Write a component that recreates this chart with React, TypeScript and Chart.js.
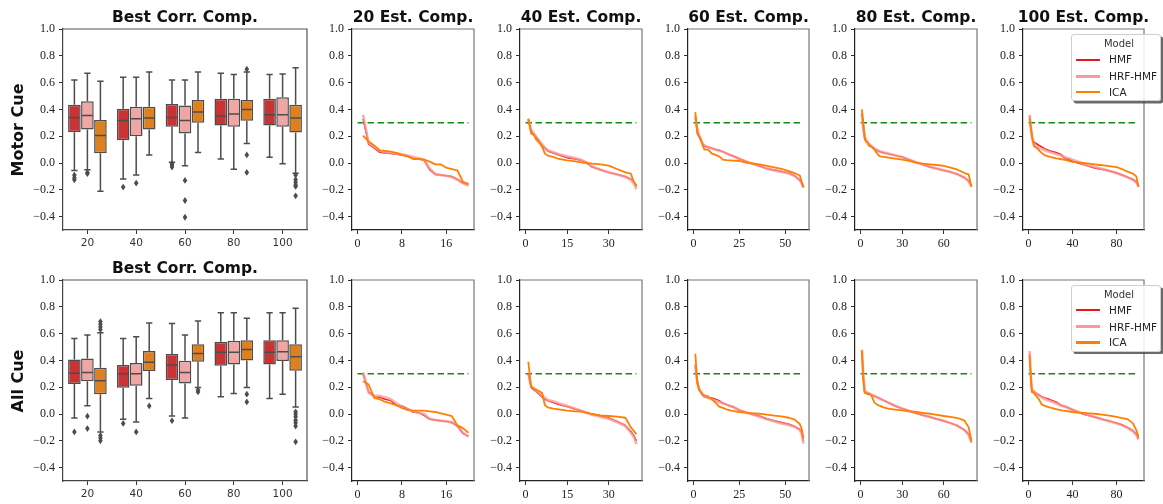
import React, { useEffect, useRef } from 'react';
import { Chart, registerables } from 'chart.js';

Chart.register(...registerables);

// ---------------- labels / categories ----------------
const MODELS = ['HMF', 'HRF-HMF', 'ICA'];
const BOX_CATEGORIES = ['20', '40', '60', '80', '100'];
const Y_TICKS = [-0.4, -0.2, 0.0, 0.2, 0.4, 0.6, 0.8, 1.0];
const ROW_LABELS = ['Motor Cue', 'All Cue'];
const COMP_COUNTS = [20, 40, 60, 80, 100];
const X_TICKS = [[0, 8, 16], [0, 15, 30], [0, 25, 50], [0, 30, 60], [0, 40, 80]];
const THRESHOLD = 0.3;

// ---------------- box plot stats: [whiskerLow, q1, median, q3, whiskerHigh] per category ----------------
const MOTOR_BOX_HMF = [[-0.056, 0.23, 0.34, 0.435, 0.62], [-0.12, 0.17, 0.317, 0.405, 0.64], [0.006, 0.27, 0.34, 0.44, 0.62], [0.03, 0.28, 0.35, 0.48, 0.67], [0.043, 0.28, 0.36, 0.48, 0.66]];
const MOTOR_BOX_HRF = [[-0.05, 0.25, 0.355, 0.46, 0.67], [-0.09, 0.2, 0.33, 0.42, 0.64], [-0.02, 0.22, 0.317, 0.43, 0.62], [-0.046, 0.27, 0.365, 0.48, 0.66], [-0.006, 0.27, 0.36, 0.49, 0.665]];
const MOTOR_BOX_ICA = [[-0.21, 0.073, 0.205, 0.32, 0.61], [0.06, 0.25, 0.335, 0.42, 0.68], [0.078, 0.3, 0.38, 0.47, 0.68], [0.145, 0.315, 0.4, 0.47, 0.68], [-0.077, 0.228, 0.335, 0.435, 0.71]];
const MOTOR_OUT_HMF = [[-0.09, -0.11, -0.125], [-0.18], [-0.005, -0.015, -0.03], [], []];
const MOTOR_OUT_HRF = [[-0.07, -0.08], [-0.15], [-0.13, -0.28, -0.405], [], []];
const MOTOR_OUT_ICA = [[], [], [], [0.7, 0.06, -0.07], [-0.09, -0.125, -0.145, -0.165, -0.175, -0.245]];

const ALL_BOX_HMF = [[-0.029, 0.223, 0.305, 0.407, 0.564], [-0.04, 0.195, 0.3, 0.365, 0.564], [-0.014, 0.253, 0.365, 0.447, 0.676], [0.128, 0.36, 0.46, 0.54, 0.756], [0.116, 0.37, 0.46, 0.55, 0.756]];
const ALL_BOX_HRF = [[0.061, 0.245, 0.31, 0.415, 0.589], [-0.06, 0.21, 0.3, 0.38, 0.576], [-0.029, 0.228, 0.31, 0.397, 0.589], [0.153, 0.37, 0.46, 0.546, 0.756], [0.148, 0.395, 0.465, 0.55, 0.756]];
const ALL_BOX_ICA = [[-0.134, 0.148, 0.248, 0.345, 0.606], [0.116, 0.32, 0.387, 0.47, 0.68], [0.198, 0.39, 0.452, 0.52, 0.694], [0.198, 0.4, 0.482, 0.55, 0.714], [0.053, 0.322, 0.427, 0.52, 0.79]];
const ALL_OUT_HMF = [[-0.134], [-0.07], [-0.05], [], []];
const ALL_OUT_HRF = [[-0.016, -0.109], [-0.134], [], [], []];
const ALL_OUT_ICA = [[0.63, 0.65, 0.67, 0.69, -0.16, -0.18, -0.2], [0.06], [0.18, 0.165], [0.148, 0.09], [0.016, -0.001, -0.02, -0.046, -0.066, -0.09, -0.208]];

// ---------------- sorted correlation curves (rank -> value) ----------------
const RANKS_20 = [1, 2, 3, 4, 5, 6, 7, 8, 9, 10, 11, 12, 13, 14, 15, 16, 17, 18, 19, 20];
const RANKS_40 = [1, 2, 3, 4, 5, 6, 7, 8, 10, 12, 15, 18, 20, 22, 24, 27, 30, 33, 36, 38, 39, 40];
const RANKS_60 = [1, 2, 3, 4, 5, 6, 8, 10, 12, 14, 16, 18, 20, 22, 25, 28, 30, 33, 36, 40, 44, 48, 52, 55, 58, 59, 60];
const RANKS_80 = [1, 2, 3, 4, 5, 6, 8, 10, 12, 14, 17, 20, 25, 30, 35, 40, 45, 50, 55, 60, 65, 70, 75, 78, 80];
const RANKS_100 = [1, 2, 3, 4, 5, 6, 8, 10, 12, 15, 18, 20, 25, 30, 32, 35, 40, 45, 50, 55, 60, 65, 70, 75, 80, 85, 90, 95, 98, 100];

const MOTOR_HMF_20 = [0.33, 0.14, 0.11, 0.08, 0.075, 0.07, 0.065, 0.06, 0.05, 0.035, 0.03, 0.02, -0.05, -0.085, -0.09, -0.095, -0.1, -0.12, -0.15, -0.16];
const MOTOR_HRF_20 = [0.36, 0.15, 0.12, 0.09, 0.08, 0.075, 0.07, 0.065, 0.055, 0.045, 0.035, 0.025, -0.04, -0.08, -0.09, -0.095, -0.105, -0.125, -0.15, -0.17];
const MOTOR_ICA_20 = [0.205, 0.16, 0.13, 0.095, 0.09, 0.085, 0.075, 0.06, 0.05, 0.03, 0.03, 0.025, 0.01, -0.01, -0.01, -0.035, -0.045, -0.055, -0.14, -0.155];
const MOTOR_HMF_40 = [0.32, 0.24, 0.21, 0.19, 0.16, 0.13, 0.11, 0.09, 0.075, 0.06, 0.04, 0.03, 0.02, 0.0, -0.03, -0.05, -0.07, -0.085, -0.1, -0.12, -0.14, -0.175];
const MOTOR_HRF_40 = [0.33, 0.25, 0.22, 0.19, 0.165, 0.14, 0.115, 0.095, 0.08, 0.065, 0.05, 0.035, 0.025, 0.005, -0.025, -0.05, -0.07, -0.085, -0.105, -0.125, -0.15, -0.195];
const MOTOR_ICA_40 = [0.33, 0.22, 0.21, 0.17, 0.15, 0.12, 0.07, 0.055, 0.045, 0.03, 0.02, 0.012, 0.005, 0.0, -0.005, -0.01, -0.02, -0.045, -0.07, -0.08, -0.14, -0.165];
const MOTOR_HMF_60 = [0.34, 0.25, 0.2, 0.17, 0.14, 0.125, 0.118, 0.11, 0.1, 0.095, 0.085, 0.072, 0.06, 0.05, 0.032, 0.015, 0.005, -0.01, -0.022, -0.042, -0.053, -0.063, -0.075, -0.095, -0.13, -0.15, -0.18];
const MOTOR_HRF_60 = [0.35, 0.26, 0.21, 0.17, 0.145, 0.13, 0.12, 0.11, 0.1, 0.092, 0.083, 0.072, 0.06, 0.048, 0.03, 0.015, 0.005, -0.01, -0.023, -0.042, -0.055, -0.066, -0.078, -0.095, -0.125, -0.15, -0.185];
const MOTOR_ICA_60 = [0.38, 0.22, 0.2, 0.18, 0.13, 0.1, 0.1, 0.07, 0.06, 0.05, 0.025, 0.022, 0.02, 0.018, 0.015, 0.005, 0.0, -0.005, -0.01, -0.022, -0.032, -0.043, -0.06, -0.075, -0.093, -0.14, -0.18];
const MOTOR_HMF_80 = [0.37, 0.25, 0.18, 0.16, 0.15, 0.14, 0.12, 0.105, 0.093, 0.083, 0.075, 0.068, 0.055, 0.045, 0.025, 0.005, -0.012, -0.03, -0.042, -0.055, -0.067, -0.083, -0.11, -0.135, -0.17];
const MOTOR_HRF_80 = [0.36, 0.26, 0.19, 0.17, 0.16, 0.145, 0.125, 0.11, 0.098, 0.088, 0.078, 0.07, 0.058, 0.045, 0.025, 0.005, -0.012, -0.028, -0.042, -0.055, -0.068, -0.085, -0.11, -0.135, -0.175];
const MOTOR_ICA_80 = [0.4, 0.3, 0.2, 0.16, 0.15, 0.13, 0.12, 0.1, 0.07, 0.05, 0.045, 0.04, 0.032, 0.025, 0.015, 0.002, -0.005, -0.01, -0.015, -0.022, -0.035, -0.05, -0.075, -0.085, -0.18];
const MOTOR_HMF_100 = [0.35, 0.27, 0.2, 0.17, 0.155, 0.15, 0.14, 0.13, 0.12, 0.105, 0.095, 0.09, 0.078, 0.062, 0.04, 0.032, 0.015, 0.0, -0.012, -0.025, -0.037, -0.045, -0.053, -0.063, -0.075, -0.09, -0.105, -0.122, -0.14, -0.167];
const MOTOR_HRF_100 = [0.36, 0.28, 0.2, 0.16, 0.145, 0.135, 0.12, 0.112, 0.105, 0.095, 0.085, 0.08, 0.068, 0.055, 0.048, 0.04, 0.025, 0.01, -0.005, -0.018, -0.03, -0.04, -0.05, -0.062, -0.075, -0.09, -0.107, -0.127, -0.145, -0.175];
const MOTOR_ICA_100 = [0.33, 0.27, 0.22, 0.16, 0.125, 0.12, 0.11, 0.09, 0.075, 0.057, 0.05, 0.045, 0.035, 0.028, 0.025, 0.02, 0.008, 0.004, 0.0, -0.005, -0.01, -0.015, -0.02, -0.025, -0.03, -0.045, -0.065, -0.08, -0.1, -0.18];

const ALL_HMF_20 = [0.3, 0.165, 0.13, 0.125, 0.11, 0.1, 0.065, 0.06, 0.04, 0.015, 0.01, -0.01, -0.04, -0.045, -0.05, -0.055, -0.065, -0.09, -0.145, -0.165];
const ALL_HRF_20 = [0.31, 0.16, 0.135, 0.135, 0.125, 0.11, 0.08, 0.055, 0.035, 0.02, 0.01, 0.0, -0.035, -0.045, -0.05, -0.055, -0.06, -0.085, -0.14, -0.17];
const ALL_ICA_20 = [0.245, 0.22, 0.12, 0.11, 0.09, 0.08, 0.065, 0.045, 0.03, 0.025, 0.025, 0.025, 0.02, 0.015, 0.005, -0.005, -0.015, -0.085, -0.105, -0.14];
const ALL_HMF_40 = [0.3, 0.2, 0.18, 0.165, 0.145, 0.125, 0.11, 0.1, 0.085, 0.07, 0.055, 0.035, 0.025, 0.01, 0.0, -0.015, -0.03, -0.055, -0.085, -0.13, -0.16, -0.2];
const ALL_HRF_40 = [0.3, 0.21, 0.19, 0.17, 0.155, 0.135, 0.12, 0.105, 0.095, 0.08, 0.06, 0.04, 0.025, 0.01, -0.005, -0.02, -0.035, -0.06, -0.09, -0.14, -0.17, -0.225];
const ALL_ICA_40 = [0.39, 0.2, 0.19, 0.18, 0.17, 0.157, 0.065, 0.05, 0.04, 0.035, 0.025, 0.02, 0.018, 0.01, 0.0, -0.01, -0.015, -0.02, -0.028, -0.1, -0.125, -0.15];
const ALL_HMF_60 = [0.36, 0.23, 0.18, 0.16, 0.14, 0.127, 0.123, 0.12, 0.11, 0.1, 0.082, 0.07, 0.06, 0.052, 0.027, 0.015, 0.005, -0.005, -0.015, -0.035, -0.05, -0.063, -0.077, -0.092, -0.115, -0.135, -0.2];
const ALL_HRF_60 = [0.37, 0.24, 0.19, 0.165, 0.145, 0.13, 0.12, 0.11, 0.1, 0.09, 0.08, 0.07, 0.06, 0.05, 0.03, 0.015, 0.005, -0.008, -0.02, -0.04, -0.055, -0.07, -0.082, -0.095, -0.12, -0.15, -0.22];
const ALL_ICA_60 = [0.45, 0.25, 0.185, 0.165, 0.148, 0.14, 0.13, 0.11, 0.085, 0.055, 0.045, 0.035, 0.027, 0.022, 0.015, 0.01, 0.008, 0.005, 0.002, -0.005, -0.012, -0.018, -0.028, -0.04, -0.075, -0.11, -0.18];
const ALL_HMF_80 = [0.46, 0.28, 0.16, 0.155, 0.15, 0.148, 0.14, 0.133, 0.125, 0.115, 0.1, 0.085, 0.06, 0.04, 0.022, 0.005, -0.01, -0.022, -0.037, -0.052, -0.068, -0.088, -0.12, -0.15, -0.21];
const ALL_HRF_80 = [0.48, 0.29, 0.17, 0.165, 0.16, 0.155, 0.145, 0.135, 0.125, 0.115, 0.1, 0.085, 0.062, 0.042, 0.025, 0.008, -0.008, -0.022, -0.037, -0.05, -0.068, -0.088, -0.12, -0.155, -0.215];
const ALL_ICA_80 = [0.475, 0.25, 0.157, 0.155, 0.153, 0.152, 0.135, 0.085, 0.07, 0.06, 0.048, 0.04, 0.032, 0.027, 0.02, 0.015, 0.008, 0.002, -0.006, -0.015, -0.022, -0.03, -0.05, -0.1, -0.2];
const ALL_HMF_100 = [0.45, 0.28, 0.18, 0.17, 0.165, 0.16, 0.15, 0.14, 0.13, 0.12, 0.112, 0.105, 0.09, 0.065, 0.06, 0.05, 0.032, 0.015, -0.002, -0.012, -0.022, -0.033, -0.045, -0.055, -0.067, -0.08, -0.1, -0.125, -0.15, -0.185];
const ALL_HRF_100 = [0.47, 0.29, 0.19, 0.175, 0.17, 0.16, 0.145, 0.135, 0.125, 0.112, 0.1, 0.095, 0.08, 0.062, 0.057, 0.048, 0.032, 0.017, 0.003, -0.01, -0.022, -0.035, -0.047, -0.057, -0.07, -0.085, -0.103, -0.13, -0.155, -0.19];
const ALL_ICA_100 = [0.43, 0.3, 0.165, 0.16, 0.155, 0.145, 0.125, 0.102, 0.072, 0.06, 0.052, 0.047, 0.037, 0.027, 0.025, 0.021, 0.015, 0.011, 0.008, 0.005, 0.002, -0.003, -0.008, -0.014, -0.022, -0.03, -0.038, -0.07, -0.12, -0.17];

const ROW_BOXES = [
  { stats: [MOTOR_BOX_HMF, MOTOR_BOX_HRF, MOTOR_BOX_ICA], outliers: [MOTOR_OUT_HMF, MOTOR_OUT_HRF, MOTOR_OUT_ICA] },
  { stats: [ALL_BOX_HMF, ALL_BOX_HRF, ALL_BOX_ICA], outliers: [ALL_OUT_HMF, ALL_OUT_HRF, ALL_OUT_ICA] },
];
const ROW_LINES = [
  [
    [RANKS_20, MOTOR_HMF_20, MOTOR_HRF_20, MOTOR_ICA_20],
    [RANKS_40, MOTOR_HMF_40, MOTOR_HRF_40, MOTOR_ICA_40],
    [RANKS_60, MOTOR_HMF_60, MOTOR_HRF_60, MOTOR_ICA_60],
    [RANKS_80, MOTOR_HMF_80, MOTOR_HRF_80, MOTOR_ICA_80],
    [RANKS_100, MOTOR_HMF_100, MOTOR_HRF_100, MOTOR_ICA_100],
  ],
  [
    [RANKS_20, ALL_HMF_20, ALL_HRF_20, ALL_ICA_20],
    [RANKS_40, ALL_HMF_40, ALL_HRF_40, ALL_ICA_40],
    [RANKS_60, ALL_HMF_60, ALL_HRF_60, ALL_ICA_60],
    [RANKS_80, ALL_HMF_80, ALL_HRF_80, ALL_ICA_80],
    [RANKS_100, ALL_HMF_100, ALL_HRF_100, ALL_ICA_100],
  ],
];

// ---------------- styles / layout ----------------
const LINE_COLORS = ['#e31a1c', '#fb9a99', '#ff7f00'];
const LINE_DRAW_COLORS = ['#e31a1c', 'rgba(251,154,153,0.8)', '#ff7f00'];
const LINE_WIDTHS = [1.5, 2.6, 1.8];
const BOX_COLORS = ['#ca3334', '#efa6a5', '#df8020'];
const BOX_EDGE = '#4d4d4d';
const GREEN = '#138a13';
const SERIF = "'Liberation Serif', 'DejaVu Serif', serif";
const SANS = "'DejaVu Sans', 'Liberation Sans', sans-serif";

const COL_LEFT = [63, 352, 520, 688, 855, 1023];
const COL_WIDTH = [244, 122, 122, 121, 122, 121];
const ROW_TOP = [29, 280];
const PLOT_H = 201;
const AXIS_W = 45;
const AXIS_H = 24;
const PAD_T = 16;
const PAD_R = 8;
const TICK_FONT = 12;

const fmtY = (v: number) => (Math.abs(v) < 1e-9 ? 0 : v).toFixed(1).replace('-', '\u2212');

function yScale(borderColor: string) {
  return {
    type: 'linear',
    min: -0.5,
    max: 1.0,
    afterBuildTicks: (s: any) => { s.ticks = Y_TICKS.map((v) => ({ value: v })); },
    afterFit: (s: any) => { s.width = AXIS_W; },
    ticks: { callback: (v: any) => fmtY(Number(v)), font: { family: SERIF, size: TICK_FONT }, color: '#222', padding: 4, autoSkip: false },
    grid: { drawOnChartArea: false, drawTicks: true, tickLength: 4, tickColor: '#333', tickWidth: 1 },
    border: { display: true, color: borderColor, width: 1.2 },
  };
}

function framePlugin(color: string) {
  return {
    id: 'frame',
    afterDatasetsDraw(chart: any) {
      const { ctx, chartArea: a } = chart;
      ctx.save();
      ctx.strokeStyle = color;
      ctx.lineWidth = 1.2;
      ctx.beginPath();
      ctx.moveTo(a.left, a.top);
      ctx.lineTo(a.right, a.top);
      ctx.lineTo(a.right, a.bottom);
      ctx.stroke();
      ctx.restore();
    },
  };
}

function boxPartsPlugin(stats: number[][][], outliers: number[][][]) {
  return {
    id: 'boxparts',
    afterDatasetsDraw(chart: any) {
      const ctx = chart.ctx;
      const ys = chart.scales.y;
      const py = (v: number) => ys.getPixelForValue(v);
      ctx.save();
      ctx.strokeStyle = BOX_EDGE;
      ctx.fillStyle = BOX_EDGE;
      ctx.lineWidth = 1.5;
      stats.forEach((st, d) => {
        const meta = chart.getDatasetMeta(d);
        meta.data.forEach((el: any, c: number) => {
          const [lo, q1, med, q3, hi] = st[c];
          const x = el.x;
          const w = el.width;
          ctx.beginPath();
          ctx.moveTo(x, py(q3)); ctx.lineTo(x, py(hi));
          ctx.moveTo(x - w / 4, py(hi)); ctx.lineTo(x + w / 4, py(hi));
          ctx.moveTo(x, py(q1)); ctx.lineTo(x, py(lo));
          ctx.moveTo(x - w / 4, py(lo)); ctx.lineTo(x + w / 4, py(lo));
          ctx.moveTo(x - w / 2 + 0.8, py(med)); ctx.lineTo(x + w / 2 - 0.8, py(med));
          ctx.stroke();
          outliers[d][c].forEach((v) => {
            const y = py(v);
            ctx.beginPath();
            ctx.moveTo(x, y - 3.4);
            ctx.lineTo(x + 2.3, y);
            ctx.lineTo(x, y + 3.4);
            ctx.lineTo(x - 2.3, y);
            ctx.closePath();
            ctx.fill();
          });
        });
      });
      ctx.restore();
    },
  };
}

function useChart(ref: any, makeConfig: () => any) {
  useEffect(() => {
    const chart = new Chart(ref.current, makeConfig());
    return () => chart.destroy();
  }, []);
}

function BoxPanel({ row }: { row: number }) {
  const ref = useRef<HTMLCanvasElement>(null);
  const w = AXIS_W + COL_WIDTH[0] + PAD_R;
  const h = PAD_T + PLOT_H + AXIS_H;
  const { stats, outliers } = ROW_BOXES[row];
  useChart(ref, () => ({
    type: 'bar',
    data: {
      labels: BOX_CATEGORIES,
      datasets: MODELS.map((m, i) => ({
        label: m,
        data: stats[i].map((s) => [s[1], s[3]]),
        backgroundColor: BOX_COLORS[i],
        borderColor: BOX_EDGE,
        borderWidth: 1.5,
        borderSkipped: false,
        categoryPercentage: 0.8,
        barPercentage: 0.97,
      })),
    },
    options: {
      responsive: false,
      animation: false,
      events: [],
      layout: { padding: { top: PAD_T, right: PAD_R, left: 0, bottom: 0 } },
      plugins: { legend: { display: false }, tooltip: { enabled: false }, title: { display: false } },
      scales: {
        x: {
          type: 'category',
          afterFit: (s: any) => { s.height = AXIS_H; },
          ticks: { font: { family: SANS, size: 10.5 }, color: '#333', padding: 3, maxRotation: 0 },
          grid: { offset: false, drawOnChartArea: false, drawTicks: true, tickLength: 4, tickColor: '#333', tickWidth: 1 },
          border: { display: true, color: '#444', width: 1.2 },
        },
        y: yScale('#444'),
      },
    },
    plugins: [boxPartsPlugin(stats, outliers), framePlugin('#555')],
  }));
  return (
    <canvas ref={ref} width={w} height={h}
      style={{ position: 'absolute', left: COL_LEFT[0] - AXIS_W, top: ROW_TOP[row] - PAD_T, width: w, height: h }} />
  );
}

function LinePanel({ row, col }: { row: number; col: number }) {
  const ref = useRef<HTMLCanvasElement>(null);
  const pw = COL_WIDTH[col + 1];
  const w = AXIS_W + pw + PAD_R;
  const h = PAD_T + PLOT_H + AXIS_H;
  const n = COMP_COUNTS[col];
  const [ranks, hmf, hrf, ica] = ROW_LINES[row][col];
  useChart(ref, () => {
    const pts = (vals: number[]) => ranks.map((r, i) => ({ x: r, y: vals[i] }));
    const series = [hmf, hrf, ica];
    const lineSets = [2, 1, 0].map((i) => ({
      label: MODELS[i],
      data: pts(series[i]),
      borderColor: LINE_DRAW_COLORS[i],
      borderWidth: LINE_WIDTHS[i],
      pointRadius: 0,
      tension: 0,
      fill: false,
      borderJoinStyle: 'round',
    }));
    return {
      type: 'line',
      data: {
        datasets: [
          ...lineSets,
          {
            label: 'threshold',
            data: [{ x: 0, y: THRESHOLD }, { x: n, y: THRESHOLD }],
            borderColor: GREEN,
            borderWidth: 1.6,
            borderDash: [6.5, 3.5],
            pointRadius: 0,
            fill: false,
          },
        ],
      },
      options: {
        responsive: false,
        animation: false,
        events: [],
        layout: { padding: { top: PAD_T, right: PAD_R, left: 0, bottom: 0 } },
        plugins: { legend: { display: false }, tooltip: { enabled: false }, title: { display: false } },
        scales: {
          x: {
            type: 'linear',
            min: -n / 20,
            max: n + n / 20,
            afterBuildTicks: (s: any) => { s.ticks = X_TICKS[col].map((v) => ({ value: v })); },
            afterFit: (s: any) => { s.height = AXIS_H; },
            ticks: { callback: (v: any) => String(v), font: { family: SERIF, size: TICK_FONT }, color: '#222', padding: 3, autoSkip: false, maxRotation: 0 },
            grid: { drawOnChartArea: false, drawTicks: true, tickLength: 4, tickColor: '#333', tickWidth: 1 },
            border: { display: true, color: '#222', width: 1.2 },
          },
          y: yScale('#222'),
        },
      },
      plugins: [framePlugin('#777')],
    };
  });
  return (
    <canvas ref={ref} width={w} height={h}
      style={{ position: 'absolute', left: COL_LEFT[col + 1] - AXIS_W, top: ROW_TOP[row] - PAD_T, width: w, height: h }} />
  );
}

function Title({ text, col, row }: { text: string; col: number; row: number }) {
  const cx = COL_LEFT[col] + COL_WIDTH[col] / 2;
  return (
    <div style={{
      position: 'absolute', left: cx - 120, width: 240, top: ROW_TOP[row] - 21.5, height: 18, lineHeight: '18px',
      textAlign: 'center', fontFamily: SANS, fontWeight: 'bold', fontSize: 15.5, color: '#111', whiteSpace: 'nowrap',
    }}>{text}</div>
  );
}

function RowLabel({ row }: { row: number }) {
  const cy = ROW_TOP[row] + PLOT_H / 2;
  return (
    <div style={{
      position: 'absolute', left: 18 - 100, top: cy - 10, width: 200, height: 20, lineHeight: '20px',
      textAlign: 'center', fontFamily: SANS, fontWeight: 'bold', fontSize: 16, color: '#111',
      transform: 'rotate(-90deg)', whiteSpace: 'nowrap',
    }}>{ROW_LABELS[row]}</div>
  );
}

function Legend({ row }: { row: number }) {
  const top = row === 0 ? 34 : 284.5;
  const itemY = [25.3, 42, 57.7];
  return (
    <div style={{
      position: 'absolute', left: 1071, top, width: 90, height: 67, boxSizing: 'border-box',
      border: '1px solid #cfcfcf', borderRadius: 3, background: 'rgba(255,255,255,0.85)',
      boxShadow: '2.5px 2.5px 0 rgba(70,70,70,0.8)', fontFamily: SANS, color: '#222',
    }}>
      <div style={{ position: 'absolute', left: 0, width: 94, top: 2, height: 14, lineHeight: '14px', textAlign: 'center', fontSize: 10, color: '#333' }}>Model</div>
      {MODELS.map((m, i) => (
        <React.Fragment key={m}>
          <div style={{ position: 'absolute', left: 4, width: 24, top: itemY[i] - 1 - LINE_WIDTHS[i] / 2, height: LINE_WIDTHS[i] + 0.5, background: LINE_COLORS[i] }} />
          <div style={{ position: 'absolute', left: 37, top: itemY[i] - 8, height: 14, lineHeight: '14px', fontSize: 10.5, whiteSpace: 'nowrap' }}>{m}</div>
        </React.Fragment>
      ))}
    </div>
  );
}

export default function App() {
  return (
    <div style={{ position: 'absolute', left: 0, top: 0, width: 1163, height: 504, background: '#fff', overflow: 'hidden' }}>
      {[0, 1].map((row) => (
        <React.Fragment key={row}>
          <BoxPanel row={row} />
          {COMP_COUNTS.map((n, col) => <LinePanel key={n} row={row} col={col} />)}
          <RowLabel row={row} />
          <Title text="Best Corr. Comp." col={0} row={row} />
          <Legend row={row} />
        </React.Fragment>
      ))}
      {COMP_COUNTS.map((n, col) => <Title key={n} text={`${n} Est. Comp.`} col={col + 1} row={0} />)}
    </div>
  );
}
